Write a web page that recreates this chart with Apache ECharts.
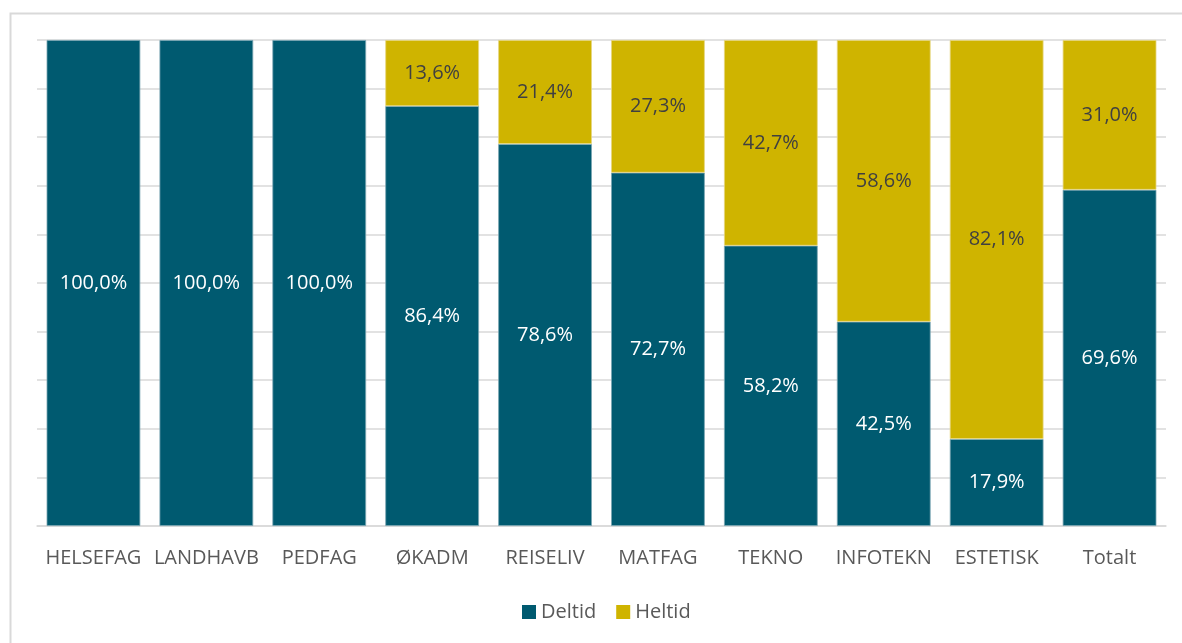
<!DOCTYPE html>
<html>
<head>
<meta charset="utf-8">
<title>Deltid / Heltid</title>
<script src="https://cdn.jsdelivr.net/npm/echarts@6/dist/echarts.min.js"></script>
<style>
  html, body { margin: 0; padding: 0; background: #fff; }
  #main { width: 1182px; height: 643px; }
</style>
</head>
<body>
<div id="main"></div>
<script>
// data
var categories = ['HELSEFAG', 'LANDHAVB', 'PEDFAG', 'ØKADM', 'REISELIV', 'MATFAG', 'TEKNO', 'INFOTEKN', 'ESTETISK', 'Totalt'];
var deltid = [100.0, 100.0, 100.0, 86.4, 78.6, 72.7, 58.2, 42.5, 17.9, 69.6];
var heltid = [0, 0, 0, 13.6, 21.4, 27.3, 42.7, 58.6, 82.1, 31.0];

// 100% stacked: scale each column to its total, keep raw value for the label
function share(arr, i) {
    var sum = deltid[i] + heltid[i];
    if (!arr[i]) return { value: '-', raw: 0 };
    return { value: arr[i] / sum * 100, raw: arr[i] };
}
var deltidData = [], heltidData = [];
for (var i = 0; i < categories.length; i++) {
    deltidData.push(share(deltid, i));
    heltidData.push(share(heltid, i));
}

function fmt(p) {
    if (!p.data.raw) return '';
    return p.data.raw.toFixed(1).replace('.', ',') + '%';
}

var fontFamily = '"Open Sans", "Noto Sans", sans-serif';
var chart = echarts.init(document.getElementById('main'));
chart.setOption({
    animation: false,
    textStyle: { fontFamily: fontFamily },
    graphic: [{
        type: 'rect', left: 8, top: 11,
        shape: { width: 1190, height: 650 },
        style: { fill: 'none', stroke: '#d9d9d9', lineWidth: 2 },
        silent: true
    }],
    grid: { left: 37, right: 16, top: 40, bottom: 117 },
    legend: {
        top: 597, left: 517,
        itemWidth: 14, itemHeight: 14, itemGap: 20,
        icon: 'rect',
        itemStyle: { borderWidth: 0 },
        textStyle: { color: '#595959', fontSize: 20, fontFamily: fontFamily },
        data: ['Deltid', 'Heltid']
    },
    xAxis: {
        type: 'category',
        data: categories,
        axisTick: { show: false },
        axisLine: { lineStyle: { color: '#d9d9d9', width: 1.5 } },
        axisLabel: { color: '#595959', fontSize: 20, margin: 22, interval: 0, fontFamily: fontFamily }
    },
    yAxis: {
        type: 'value', min: 0, max: 100, interval: 10,
        axisLabel: { show: false },
        axisLine: { show: false },
        axisTick: { show: false },
        splitLine: { lineStyle: { color: '#d9d9d9', width: 1.5 } }
    },
    series: [{
        name: 'Deltid', type: 'bar', stack: 'a',
        data: deltidData,
        barCategoryGap: '17%',
        itemStyle: { color: '#005a70', borderColor: '#7aa6b2', borderWidth: 0.8 },
        label: { show: true, position: 'inside', color: '#ffffff', fontSize: 20, formatter: fmt, fontFamily: fontFamily }
    }, {
        name: 'Heltid', type: 'bar', stack: 'a',
        data: heltidData,
        itemStyle: { color: '#cfb400', borderColor: '#e6d680', borderWidth: 0.8 },
        label: { show: true, position: 'inside', color: '#404040', fontSize: 20, formatter: fmt, fontFamily: fontFamily }
    }]
});
</script>
</body>
</html>
